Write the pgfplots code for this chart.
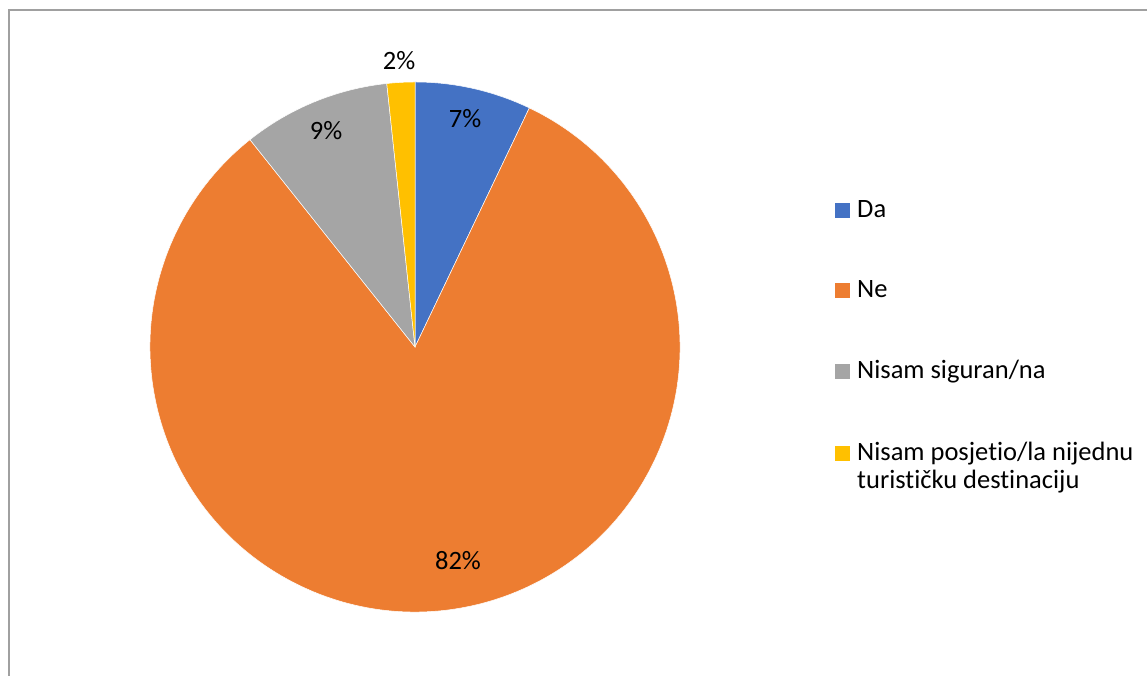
\documentclass[border=0pt]{standalone}
\usepackage{pgfplots}
\pgfplotsset{compat=1.18}
\usepackage{fontspec}
\setmainfont[Ligatures={NoCommon}]{Carlito}
\definecolor{cDa}{HTML}{4472C4}
\definecolor{cNe}{HTML}{ED7D31}
\definecolor{cNs}{HTML}{A5A5A5}
\definecolor{cNp}{HTML}{FFC000}
\definecolor{frame}{HTML}{A0A0A0}
% shares in percent
\def\vDa{7.1}
\def\vNe{82.2}
\def\vNs{9.0}
\def\vNp{1.7}
\newcommand\fs{\fontsize{26.5}{31}\selectfont}
\begin{document}
\begin{tikzpicture}
\begin{axis}[
  width=1147pt, height=676pt, scale only axis,
  xmin=0, xmax=1147, ymin=0, ymax=676,
  hide axis, clip=false,
]
% frame
\draw[frame, line width=2pt] (axis cs:8.5,0) -- (axis cs:8.5,665.5) -- (axis cs:1147,665.5);
% pie sectors: centre (415,329), radius 265, clockwise from the top
\fill[cDa, draw=white, line width=0.5pt] (axis cs:415,329) -- ++(90:265pt)
  arc[start angle=90, end angle={90-3.6*\vDa}, radius=265pt] -- cycle;
\fill[cNe, draw=white, line width=0.5pt] (axis cs:415,329) -- ++({90-3.6*\vDa}:265pt)
  arc[start angle={90-3.6*\vDa}, end angle={90-3.6*(\vDa+\vNe)}, radius=265pt] -- cycle;
\fill[cNs, draw=white, line width=0.5pt] (axis cs:415,329) -- ++({90-3.6*(\vDa+\vNe)}:265pt)
  arc[start angle={90-3.6*(\vDa+\vNe)}, end angle={90-3.6*(\vDa+\vNe+\vNs)}, radius=265pt] -- cycle;
\fill[cNp, draw=white, line width=0.5pt] (axis cs:415,329) -- ++({90-3.6*(\vDa+\vNe+\vNs)}:265pt)
  arc[start angle={90-3.6*(\vDa+\vNe+\vNs)}, end angle=-270, radius=265pt] -- cycle;
% data labels
\node[anchor=base, inner sep=0, font=\fs] at (axis cs:465,548) {7\%};
\node[anchor=base, inner sep=0, font=\fs] at (axis cs:458,106) {82\%};
\node[anchor=base, inner sep=0, font=\fs] at (axis cs:326,536) {9\%};
\node[anchor=base, inner sep=0, font=\fs] at (axis cs:399,606) {2\%};
% legend
\fill[cDa] (axis cs:835,458) rectangle (axis cs:850,473);
\node[anchor=base west, inner sep=0, font=\fs] at (axis cs:857,458) {Da};
\fill[cNe] (axis cs:835,378) rectangle (axis cs:850,393);
\node[anchor=base west, inner sep=0, font=\fs] at (axis cs:857,378) {Ne};
\fill[cNs] (axis cs:835,297) rectangle (axis cs:850,312);
\node[anchor=base west, inner sep=0, font=\fs] at (axis cs:857,297) {Nisam siguran/na};
\fill[cNp] (axis cs:835,215) rectangle (axis cs:850,230);
\node[anchor=base west, inner sep=0, font=\fs] at (axis cs:857,215) {Nisam posjetio/la nijednu};
\node[anchor=base west, inner sep=0, font=\fs] at (axis cs:857,187) {turističku destinaciju};
\end{axis}
\pgfresetboundingbox
\useasboundingbox (current axis.south west) rectangle (current axis.north east);
\end{tikzpicture}
\end{document}
